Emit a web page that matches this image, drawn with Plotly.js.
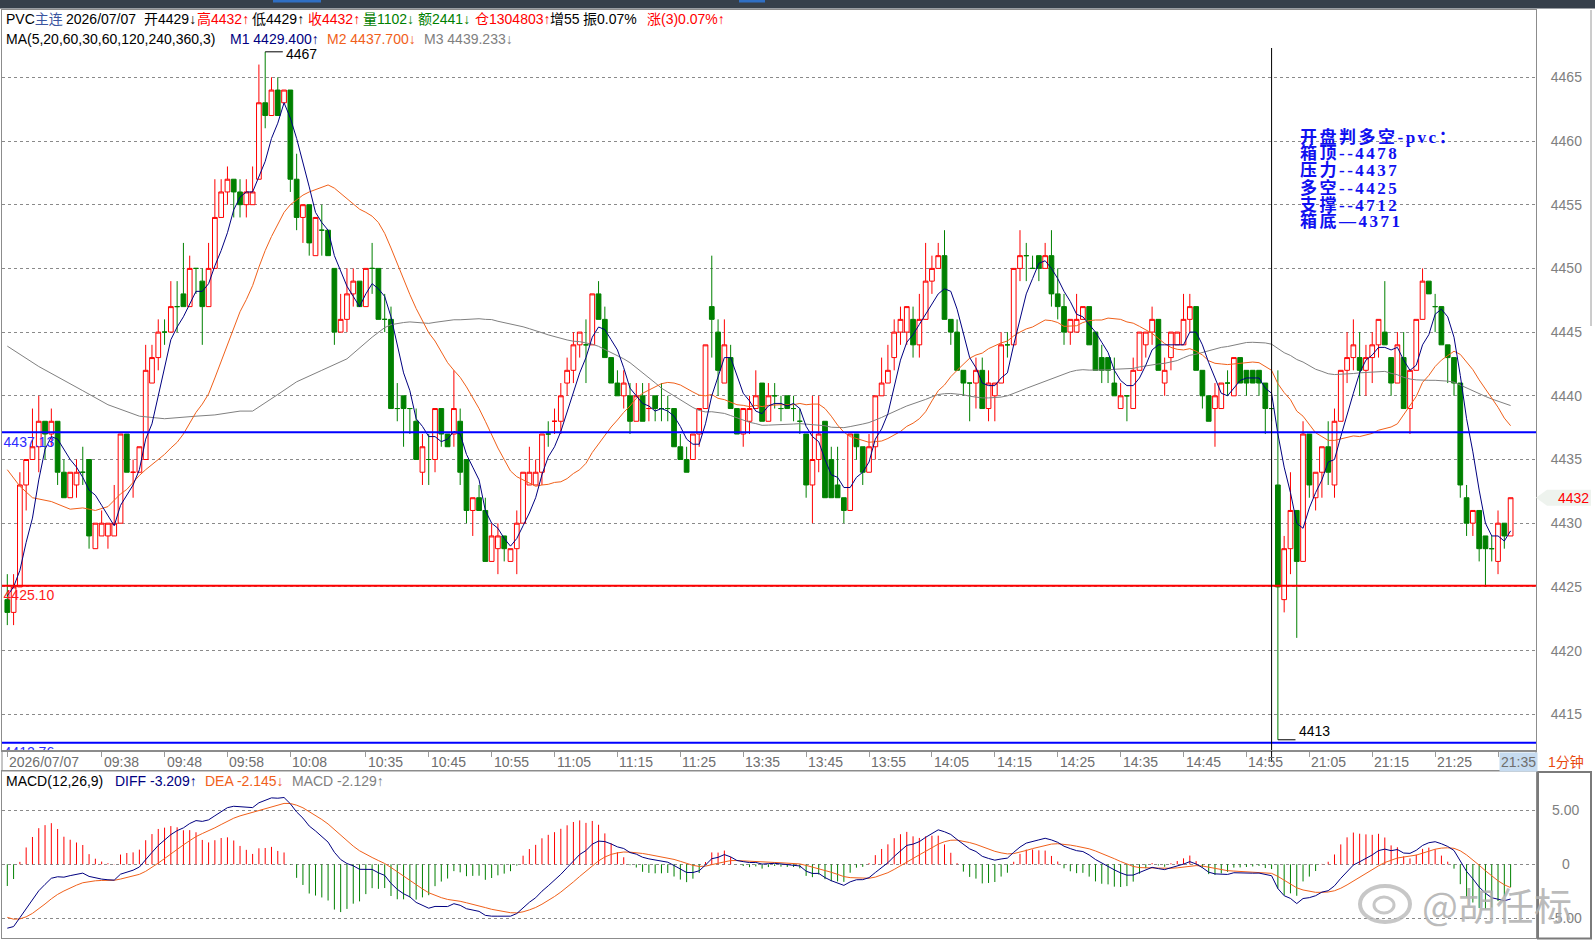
<!DOCTYPE html>
<html>
<head>
<meta charset="utf-8">
<script src="https://cdn.plot.ly/plotly-3.0.1.min.js"></script>
<style>
html,body{margin:0;padding:0;background:#ffffff;}
#chart{width:1595px;height:942px;}
</style>
</head>
<body>
<div id="chart"></div>
<script>
// ---------------- data (1-minute bars, index 0..239) ----------------
const opens = [
4424,4423,4425,4433,4435,4436,4438,4437,4438,4434,
4432,4433,4434,4435,4428,4429,4429,4429,4430,4437,
4434,4434,4435,4441,4443,4445,4445,4447,4448,4447,
4450,4449,4447,4450,4454,4456,4457,4456,4455,4455,
4457,4463,4462,4464,4463,4464,4457,4454,4455,4451,
4453,4453,4450,4445,4446,4448,4449,4447,4450,4450,
4446,4446,4439,4440,4439,4438,4434,4435,4435,4439,
4437,4437,4438,4435,4431,4432,4431,4427,4428,4429,
4427,4428,4430,4433,4433,4434,4437,4438,4438,4441,
4442,4444,4444,4444,4448,4446,4443,4441,4440,4440,
4438,4440,4439,4440,4439,4439,4439,4436,4435,4435,
4437,4439,4447,4445,4441,4443,4439,4437,4438,4439,
4441,4438,4440,4439,4440,4439,4438,4437,4433,4435,
4438,4435,4433,4432,4431,4437,4436,4434,4436,4440,
4441,4443,4445,4445,4446,4444,4446,4449,4450,4451,
4446,4445,4442,4441,4441,4442,4439,4440,4441,4444,
4444,4450,4451,4450,4451,4450,4451,4448,4447,4445,
4445,4446,4447,4445,4443,4443,4441,4439,4440,4439,
4442,4444,4445,4446,4441,4443,4444,4444,4446,4447,
4442,4440,4439,4439,4441,4440,4443,4442,4442,4442,
4441,4439,4433,4424,4428,4431,4427,4437,4432,4434,
4436,4433,4438,4442,4443,4443,4442,4443,4444,4445,
4443,4441,4443,4439,4442,4446,4449,4447,4447,4444,
4443,4441,4432,4430,4431,4429,4428,4427,4430,4429];
const highs = [
4426,4426,4434,4435,4439,4440,4438,4439,4438,4435,
4434,4435,4436,4435,4430,4431,4430,4433,4437,4437,
4435,4436,4444,4444,4446,4446,4449,4449,4452,4451,
4450,4450,4452,4457,4457,4458,4457,4457,4457,4458,
4466,4467,4465,4465,4464,4464,4459,4455,4455,4454,
4455,4453,4450,4448,4450,4450,4449,4450,4452,4450,
4448,4447,4441,4440,4439,4439,4437,4437,4439,4439,
4437,4442,4439,4435,4432,4433,4432,4430,4430,4429,
4428,4431,4434,4436,4435,4437,4438,4439,4441,4443,
4445,4445,4446,4448,4449,4447,4443,4442,4442,4441,
4441,4441,4441,4440,4441,4440,4439,4437,4436,4437,
4439,4444,4451,4446,4446,4444,4439,4439,4440,4442,
4441,4441,4441,4440,4440,4440,4439,4437,4440,4440,
4438,4436,4436,4432,4437,4437,4436,4437,4440,4443,
4444,4446,4447,4447,4447,4448,4452,4451,4452,4453,
4446,4446,4442,4441,4443,4443,4442,4441,4445,4445,
4450,4453,4452,4451,4451,4452,4453,4450,4448,4446,
4448,4447,4447,4445,4444,4443,4443,4441,4440,4443,
4445,4445,4447,4446,4443,4445,4445,4448,4448,4447,
4442,4440,4441,4441,4442,4443,4443,4442,4442,4442,
4441,4439,4442,4429,4434,4431,4438,4437,4434,4436,
4438,4439,4442,4445,4446,4445,4444,4445,4446,4449,
4443,4445,4445,4442,4446,4450,4449,4448,4447,4444,
4443,4441,4433,4431,4431,4429,4429,4431,4430,4432];
const lows = [
4422,4422,4425,4431,4435,4434,4435,4436,4433,4432,
4432,4432,4433,4428,4428,4429,4428,4429,4430,4434,
4432,4434,4435,4441,4442,4444,4445,4445,4447,4447,
4448,4444,4447,4450,4454,4455,4454,4454,4454,4455,
4457,4461,4462,4462,4463,4456,4453,4452,4451,4451,
4451,4451,4444,4445,4445,4447,4447,4447,4448,4446,
4445,4439,4438,4436,4437,4435,4433,4433,4434,4436,
4436,4436,4433,4430,4429,4431,4427,4427,4426,4427,
4427,4426,4430,4433,4433,4433,4436,4437,4437,4440,
4441,4443,4441,4444,4446,4443,4441,4440,4439,4437,
4438,4438,4438,4438,4438,4438,4436,4435,4434,4435,
4436,4439,4443,4440,4441,4439,4437,4436,4437,4439,
4438,4438,4439,4438,4439,4438,4437,4432,4430,4434,
4432,4432,4432,4430,4431,4435,4433,4434,4435,4440,
4441,4442,4444,4444,4443,4443,4446,4448,4450,4446,
4444,4442,4440,4438,4439,4439,4438,4438,4441,4443,
4444,4449,4449,4450,4449,4450,4447,4446,4444,4444,
4445,4446,4444,4442,4441,4441,4440,4439,4438,4439,
4442,4443,4444,4442,4440,4442,4444,4444,4445,4442,
4439,4438,4436,4439,4440,4440,4441,4440,4441,4440,
4437,4438,4413,4423,4426,4421,4427,4432,4431,4432,
4433,4432,4438,4441,4442,4440,4440,4441,4443,4444,
4440,4441,4439,4437,4442,4446,4448,4445,4444,4441,
4440,4432,4429,4429,4427,4425,4427,4426,4428,4429];
const closes = [
4423,4425,4433,4435,4436,4438,4437,4438,4434,4432,
4434,4434,4434,4429,4430,4430,4430,4430,4437,4434,
4434,4436,4442,4443,4445,4445,4447,4447,4447,4450,
4450,4447,4450,4454,4456,4457,4456,4455,4456,4456,
4463,4462,4464,4462,4464,4457,4454,4455,4452,4454,
4453,4451,4445,4446,4448,4449,4447,4450,4450,4446,
4446,4439,4439,4439,4439,4435,4436,4435,4439,4437,
4436,4439,4434,4431,4432,4431,4427,4429,4429,4428,
4428,4430,4434,4434,4434,4437,4437,4438,4440,4442,
4444,4445,4444,4448,4446,4443,4441,4440,4441,4438,
4440,4438,4439,4439,4439,4439,4436,4435,4434,4437,
4439,4444,4446,4442,4444,4439,4437,4439,4439,4440,
4438,4440,4440,4439,4439,4439,4438,4433,4435,4437,
4432,4432,4432,4431,4437,4436,4434,4436,4440,4441,
4442,4445,4446,4447,4444,4446,4449,4450,4451,4446,
4445,4442,4441,4441,4442,4439,4441,4441,4444,4444,
4450,4451,4451,4450,4450,4451,4448,4447,4445,4446,
4446,4447,4444,4442,4442,4442,4440,4440,4440,4442,
4445,4445,4446,4442,4442,4445,4445,4446,4447,4442,
4440,4438,4440,4441,4441,4443,4441,4441,4441,4441,
4439,4439,4425,4428,4431,4427,4437,4433,4434,4436,
4434,4438,4442,4443,4444,4442,4443,4444,4446,4444,
4441,4444,4439,4442,4446,4449,4448,4447,4444,4443,
4441,4433,4430,4431,4428,4428,4428,4430,4429,4432];
// doji bars (open == close) that the reference draws in red
const redCross = [20, 87, 102];

// time axis
const tickIdx  = [0,15,25,35,45,57,67,77,87,97,107,117,127,137,147,157,167,177,187,197,207,217,227,237];
const tickText = ['2026/07/07','09:38','09:48','09:58','10:08','10:35','10:45','10:55','11:05','11:15','11:25',
                  '13:35','13:45','13:55','14:05','14:15','14:25','14:35','14:45','14:55','21:05','21:15','21:25','21:35'];
const sessionBreak = 201;

// price axis
const priceTicks = [4415,4420,4425,4430,4435,4440,4445,4450,4455,4460,4465];
const priceTickText = ['4415','4420','4425','4430','4435','4440','4445','4450','4455','4460','4465'];

// moving-average values before enough bars are on screen
const ma5HeadIdx  = [0,1,2,3];
const ma5HeadVal  = [4424.3,4425.0,4426.3,4428.5];
const ma20HeadIdx = [0,2,4,7,10,12,14,16,18];
const ma20HeadVal = [4434.2,4432.9,4432.0,4431.7,4431.1,4431.2,4431.0,4431.3,4432.3];
const ma60HeadIdx = [0,5,12,16,21,25,30,33,37,39,43,46,50,54,58];
const ma60HeadVal = [4443.9,4442.3,4440.4,4439.3,4438.4,4438.2,4438.4,4438.5,4438.8,4438.8,4440.1,4441.1,4442.0,4442.9,4444.6];

// MACD(12,26,9) state at the first bar: EMA12, EMA26, DEA
const macdSeed = [4428.6, 4434.5, -4.9];
const macdTicks = [5, 0, -5];
const macdTickText = ['5.00', '0', '-5.00'];

// horizontal reference lines
const levelLines  = [4437.13, 4425.10, 4412.76];
const levelLabels = ['4437.13', '4425.10', '4412.76'];

// header texts
const head1Text = ['PVC<span style="color:#3a55a0">主连</span>','2026/07/07','开4429↓','高4432↑','低4429↑','收4432↑','量1102↓','额2441↓','仓1304803↑','增55','振0.07%','涨(3)0.07%↑'];
const head2Text = ['MA(5,20,60,30,60,120,240,360,3)','M1 4429.400↑','M2 4437.700↓','M3 4439.233↓'];
const macdHeadText = ['MACD(12,26,9)','DIFF -3.209↑','DEA -2.145↓','MACD -2.129↑'];
const noteLines = ['开盘判多空-pvc：','箱顶--4478','压力--4437','多空--4425','支撑--4712','箱底—4371'];

// ---------------- styles / layout helpers ----------------
const RED = '#ff0000', GREEN = '#008000', NAVY = '#000080', ORANGE = '#f0601a', GREY = '#808080';
const FONT = 'Liberation Sans, Arial, Noto Sans CJK SC, sans-serif';
const PL = 2, PR = 1536, PT = 10, PB = 938;
const px2x = px => (px - PL) / (PR - PL);
const px2y = py => (PB - py) / (PB - PT);
const mainTop = 10, mainBot = 750.5, macdTop = 771, macdBot = 938;
const slot = 6.29, firstPx = 7.3;
const xRange = [(PL - firstPx) / slot, (PR - firstPx) / slot];
const pxPerPt = 12.74, refPrice = 4460, refPx = 141;
const yRange = [refPrice - (mainBot - refPx) / pxPerPt, refPrice + (refPx - mainTop) / pxPerPt];
const macdPx = 10.83, macdZeroPx = 864.3;
const y2Range = [-(macdBot - macdZeroPx) / macdPx, (macdZeroPx - macdTop) / macdPx];

// ---------------- derived series ----------------
const N = closes.length;
const idx = closes.map((_, i) => i);
const isUp = idx.map(i => closes[i] > opens[i] || (closes[i] === opens[i] && redCross.includes(i)));
const sel = (arr, want) => idx.filter(i => isUp[i] === want).map(i => arr[i]);

function sma(period, headIdx, headVal) {
  const xs = headIdx.slice(), ys = headVal.slice();
  for (let i = period - 1; i < N; i++) {
    let s = 0;
    for (let k = i - period + 1; k <= i; k++) s += closes[k];
    xs.push(i); ys.push(s / period);
  }
  return [xs, ys];
}
const [ma5x, ma5y] = sma(5, ma5HeadIdx, ma5HeadVal);
const [ma20x, ma20y] = sma(20, ma20HeadIdx, ma20HeadVal);
const [ma60x, ma60y] = sma(60, ma60HeadIdx, ma60HeadVal);

let e12 = macdSeed[0], e26 = macdSeed[1], dea = macdSeed[2];
const diffArr = [], deaArr = [], histArr = [];
for (let i = 0; i < N; i++) {
  if (i > 0) {
    e12 = (2 * closes[i] + 11 * e12) / 13;
    e26 = (2 * closes[i] + 25 * e26) / 27;
  }
  const d = e12 - e26;
  if (i > 0) dea = (2 * d + 8 * dea) / 10;
  diffArr.push(d); deaArr.push(dea); histArr.push(2 * (d - dea));
}
const hRx = [], hRy = [], hGx = [], hGy = [];
histArr.forEach((v, i) => {
  if (v >= 0) { hRx.push(i, i, null); hRy.push(0, v, null); }
  else { hGx.push(i, i, null); hGy.push(0, v, null); }
});

const hiMax = Math.max(...highs), hiIdx = highs.indexOf(hiMax);
const loMin = Math.min(...lows), loIdx = lows.indexOf(loMin);
const lastClose = closes[N - 1];

// ---------------- traces ----------------
const cBase = {type: 'candlestick', xaxis: 'x', yaxis: 'y', hoverinfo: 'skip', showlegend: false, whiskerwidth: 0};
const labelDrop = 4 / pxPerPt;   // labels sit just under their line
const traces = [
  Object.assign({}, cBase, {
    x: idx.filter(i => isUp[i]), open: sel(opens, true), high: sel(highs, true), low: sel(lows, true), close: sel(closes, true),
    increasing: {line: {color: RED, width: 1}, fillcolor: '#ffffff'},
    decreasing: {line: {color: RED, width: 1}, fillcolor: '#ffffff'}
  }),
  Object.assign({}, cBase, {
    x: idx.filter(i => !isUp[i]), open: sel(opens, false), high: sel(highs, false), low: sel(lows, false), close: sel(closes, false),
    increasing: {line: {color: GREEN, width: 1}, fillcolor: GREEN},
    decreasing: {line: {color: GREEN, width: 1}, fillcolor: GREEN}
  }),
  {type: 'scatter', mode: 'lines', x: ma60x, y: ma60y, line: {color: GREY, width: 1}, hoverinfo: 'skip', showlegend: false},
  {type: 'scatter', mode: 'lines', x: ma20x, y: ma20y, line: {color: ORANGE, width: 1}, hoverinfo: 'skip', showlegend: false},
  {type: 'scatter', mode: 'lines', x: ma5x, y: ma5y, line: {color: NAVY, width: 1}, hoverinfo: 'skip', showlegend: false},
  {type: 'scatter', mode: 'text', x: levelLines.map(() => xRange[0] + 0.25), y: levelLines.map(v => v - labelDrop), text: levelLabels,
   textposition: 'bottom right', cliponaxis: true,
   textfont: {family: FONT, size: 14, color: ['#2b2bff', '#ff1a1a', '#2b2bff']}, hoverinfo: 'skip', showlegend: false},
  {type: 'scatter', mode: 'lines', x: hRx, y: hRy, xaxis: 'x2', yaxis: 'y2', line: {color: RED, width: 1}, hoverinfo: 'skip', showlegend: false},
  {type: 'scatter', mode: 'lines', x: hGx, y: hGy, xaxis: 'x2', yaxis: 'y2', line: {color: GREEN, width: 1}, hoverinfo: 'skip', showlegend: false},
  {type: 'scatter', mode: 'lines', x: idx, y: deaArr, xaxis: 'x2', yaxis: 'y2', line: {color: ORANGE, width: 1}, hoverinfo: 'skip', showlegend: false},
  {type: 'scatter', mode: 'lines', x: idx, y: diffArr, xaxis: 'x2', yaxis: 'y2', line: {color: NAVY, width: 1}, hoverinfo: 'skip', showlegend: false}
];

// ---------------- shapes ----------------
const FRAME = '#8c8c8c';
const shapes = [];
shapes.push({type: 'rect', xref: 'paper', yref: 'paper', x0: px2x(0), x1: px2x(1595), y0: px2y(8.5), y1: px2y(0),
  fillcolor: '#36404b', line: {width: 0}, layer: 'above'});
shapes.push({type: 'rect', xref: 'paper', yref: 'paper', x0: px2x(273), x1: px2x(321), y0: px2y(2.5), y1: px2y(0),
  fillcolor: '#2f6fc4', line: {width: 0}, layer: 'above'});
shapes.push({type: 'rect', xref: 'paper', yref: 'paper', x0: px2x(739), x1: px2x(765), y0: px2y(2.5), y1: px2y(0),
  fillcolor: '#2f6fc4', line: {width: 0}, layer: 'above'});
levelLines.forEach((v, k) => shapes.push({type: 'line', xref: 'paper', yref: 'y', x0: 0, x1: 1, y0: v, y1: v,
  line: {color: k === 1 ? RED : '#0000ff', width: 2}, layer: 'above'}));
shapes.push({type: 'line', xref: 'x', yref: 'paper', x0: sessionBreak, x1: sessionBreak, y0: px2y(762), y1: px2y(48),
  line: {color: '#000000', width: 1}, layer: 'above'});
shapes.push({type: 'line', xref: 'x', yref: 'y', x0: hiIdx, x1: hiIdx + 2.8, y0: hiMax, y1: hiMax, line: {color: '#000000', width: 1}});
shapes.push({type: 'line', xref: 'x', yref: 'y', x0: loIdx, x1: loIdx + 2.8, y0: loMin, y1: loMin, line: {color: '#000000', width: 1}});
const tagH = 8 / pxPerPt;
shapes.push({type: 'path', xref: 'paper', yref: 'y',
  path: `M ${px2x(1536)} ${lastClose} L ${px2x(1547)} ${lastClose + tagH} L ${px2x(1591)} ${lastClose + tagH} L ${px2x(1591)} ${lastClose - tagH} L ${px2x(1547)} ${lastClose - tagH} Z`,
  fillcolor: '#eef3ee', line: {width: 0}});
shapes.push({type: 'rect', xref: 'paper', yref: 'paper', x0: 0, x1: 1, y0: px2y(macdTop), y1: px2y(mainBot),
  line: {color: FRAME, width: 1}, fillcolor: 'rgba(0,0,0,0)'});
shapes.push({type: 'rect', xref: 'paper', yref: 'paper', x0: px2x(1538), x1: px2x(1591), y0: px2y(938.5), y1: px2y(772),
  line: {color: '#7a7a7a', width: 2}, fillcolor: 'rgba(0,0,0,0)'});
shapes.push({type: 'line', xref: 'paper', yref: 'paper', x0: px2x(1591), x1: px2x(1591), y0: px2y(326), y1: px2y(10),
  line: {color: '#9a9a9a', width: 1}});
shapes.push({type: 'circle', xref: 'paper', yref: 'paper', x0: px2x(1360), x1: px2x(1410), y0: px2y(922), y1: px2y(886),
  line: {color: 'rgba(185,185,185,0.8)', width: 4}, fillcolor: 'rgba(0,0,0,0)', layer: 'above'});
shapes.push({type: 'circle', xref: 'paper', yref: 'paper', x0: px2x(1374), x1: px2x(1394), y0: px2y(913), y1: px2y(897),
  line: {color: 'rgba(185,185,185,0.8)', width: 3}, fillcolor: 'rgba(0,0,0,0)', layer: 'above'});

// ---------------- annotations ----------------
const ann = [];
const txt = (x, y, text, color, size, extra) => Object.assign({
  xref: 'paper', yref: 'paper', x: px2x(x), y: px2y(y), text: text, showarrow: false,
  xanchor: 'left', yanchor: 'middle', font: {family: FONT, size: size || 14, color: color || '#000'}
}, extra || {});
const head1X = [4, 64, 142, 195, 250, 306, 361, 416, 473, 548, 581, 645];
const head1C = ['#000', '#000', '#000', RED, '#000', RED, GREEN, GREEN, RED, '#000', '#000', RED];
head1Text.forEach((t, k) => ann.push(txt(head1X[k], 19.5, t, head1C[k])));
const head2X = [4, 228, 325, 422];
const head2C = ['#000', NAVY, ORANGE, GREY];
head2Text.forEach((t, k) => ann.push(txt(head2X[k], 39, t, head2C[k])));
const macdHX = [4, 113, 203, 290];
macdHeadText.forEach((t, k) => ann.push(txt(macdHX[k], 781, t, head2C[k])));
tickIdx.forEach((ti, k) => {
  const last = k === tickIdx.length - 1;
  ann.push({xref: 'x', yref: 'paper', x: ti, xshift: 1, y: px2y(761.5), text: tickText[k], showarrow: false,
    xanchor: 'left', yanchor: 'middle', font: {family: FONT, size: 14, color: '#6e6e6e'},
    bgcolor: last ? '#c6dbf0' : 'rgba(0,0,0,0)', borderpad: last ? 1 : 0});
});
ann.push(txt(1546, 761.5, '1分钟', '#e8480c'));
ann.push({xref: 'x', yref: 'y', x: hiIdx + 3, y: hiMax, yshift: -2, text: String(hiMax), showarrow: false,
  xanchor: 'left', yanchor: 'middle', font: {family: FONT, size: 14, color: '#000'}});
ann.push({xref: 'x', yref: 'y', x: loIdx + 3, y: loMin, yshift: 9, text: String(loMin), showarrow: false,
  xanchor: 'left', yanchor: 'middle', font: {family: FONT, size: 14, color: '#000'}});
const noteY = [137, 153.9, 170.8, 187.7, 204.6, 221.5];
noteLines.forEach((t, k) => ann.push(txt(1298, noteY[k],
  '<b><span style="letter-spacing:2.5px">' + t + '</span></b>', '#1010f0', 17,
  {font: {family: 'Liberation Serif, Noto Sans CJK SC, serif', size: 17, color: '#1010f0'}})));
ann.push({xref: 'paper', yref: 'y', x: px2x(1573), y: lastClose, text: String(lastClose), showarrow: false,
  xanchor: 'center', yanchor: 'middle', font: {family: FONT, size: 14, color: RED}});
macdTicks.forEach((v, k) => ann.push({xref: 'paper', yref: 'y2', x: px2x(1566), y: v, text: macdTickText[k], showarrow: false,
  xanchor: 'center', yanchor: 'middle', font: {family: FONT, size: 14, color: GREY}}));
ann.push(txt(1420, 903, '@胡任标', 'rgba(175,175,175,0.85)', 38, {font: {family: 'Noto Sans CJK SC, sans-serif', size: 38, color: 'rgba(175,175,175,0.85)'}}));

// ---------------- layout ----------------
const layout = {
  width: 1595, height: 942,
  margin: {l: PL, r: 1595 - PR, t: PT, b: 942 - PB, pad: 0},
  paper_bgcolor: '#ffffff', plot_bgcolor: '#ffffff',
  showlegend: false, boxgap: 0.25, boxgroupgap: 0, boxmode: 'overlay',
  font: {family: FONT, size: 14, color: '#000'},
  xaxis: {domain: [0, 1], anchor: 'y', range: xRange, showgrid: false, zeroline: false,
    showline: true, linecolor: FRAME, linewidth: 1, mirror: true,
    ticks: 'outside', ticklen: 5, tickcolor: '#9a9a9a', tickvals: tickIdx, showticklabels: false,
    rangeslider: {visible: false}, fixedrange: true},
  yaxis: {domain: [px2y(mainBot), 1], anchor: 'x', range: yRange, side: 'right',
    showgrid: true, gridcolor: '#8a8a8a', griddash: 'dot', gridwidth: 1, zeroline: false,
    showline: true, linecolor: FRAME, linewidth: 1, mirror: true,
    tickvals: priceTicks, ticktext: priceTickText, ticks: '', ticklabelstandoff: 11,
    tickfont: {family: FONT, size: 14, color: GREY}, fixedrange: true},
  xaxis2: {domain: [0, 1], anchor: 'y2', range: xRange, showgrid: false, zeroline: false,
    showline: true, linecolor: FRAME, linewidth: 1, mirror: true, ticks: '', showticklabels: false, fixedrange: true},
  yaxis2: {domain: [0, px2y(macdTop)], anchor: 'x2', range: y2Range, side: 'right',
    showgrid: true, gridcolor: '#8a8a8a', griddash: 'dot', gridwidth: 1, zeroline: false,
    showline: true, linecolor: FRAME, linewidth: 1, mirror: true,
    tickvals: macdTicks, showticklabels: false, ticks: '', fixedrange: true},
  shapes: shapes,
  annotations: ann
};

Plotly.newPlot('chart', traces, layout, {displayModeBar: false, staticPlot: true});
</script>
</body>
</html>
